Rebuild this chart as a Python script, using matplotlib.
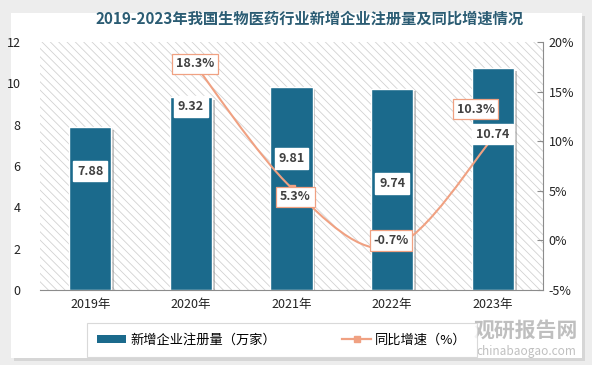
import matplotlib.pyplot as plt
import numpy as np
from matplotlib.patches import Rectangle, PathPatch
from matplotlib.path import Path
from matplotlib.lines import Line2D
from matplotlib.patches import Patch
import matplotlib.patheffects as pe
from matplotlib.ticker import FuncFormatter

plt.rcParams['font.family'] = ['Noto Sans CJK SC', 'DejaVu Sans']
plt.rcParams['hatch.linewidth'] = 0.6
plt.rcParams['hatch.color'] = '#CFCFCF'

# data
years = ['2019年', '2020年', '2021年', '2022年', '2023年']
counts = [7.88, 9.32, 9.81, 9.74, 10.74]
growth_years = [1, 2, 3, 4]          # index into years, 2019 has no rate
growth = [18.3, 5.3, -0.7, 10.3]

bar_color = '#1B6A8C'
line_color = '#F0A182'
text_color = '#404040'

fig = plt.figure(figsize=(5.92, 3.65), dpi=100, facecolor='#EDEDED')

# white card with soft shadow
W, H = 592, 365
card = Rectangle((11 / W, 1 - 358 / H), 571 / W, 345 / H, transform=fig.transFigure,
                 facecolor='white', edgecolor='none', zorder=-10,
                 path_effects=[pe.SimplePatchShadow(offset=(2, -2), shadow_rgbFace='#C8C8C8', alpha=0.6), pe.Normal()])
fig.patches.append(card)

ax = fig.add_axes([40 / W, 1 - 290 / H, 503 / W, 248 / H])
ax.set_facecolor('white')
ax.add_patch(Rectangle((0, 0), 1, 1, transform=ax.transAxes, facecolor='white',
                       hatch='\\\\\\\\', edgecolor='#D2D2D2', linewidth=0, zorder=0))

x = np.arange(len(years))
bars = ax.bar(x, counts, width=0.42, color=bar_color, edgecolor='white', linewidth=1, zorder=2,
              path_effects=[pe.SimplePatchShadow(offset=(2, -2), shadow_rgbFace='#888888', alpha=0.5), pe.Normal()])
ax.set_xlim(-0.5, len(years) - 0.5)
ax.set_ylim(0, 12)
ax.set_yticks(range(0, 13, 2))
ax.set_xticks(x)
ax.set_xticklabels(years, fontsize=9, color='#222222')
ax.tick_params(axis='y', length=0, labelsize=9, labelcolor='#222222', pad=14)
ax.tick_params(axis='x', length=0, pad=6)
for s in ['top', 'right', 'left']:
    ax.spines[s].set_visible(False)
ax.spines['bottom'].set_color('#8C8C8C')

# right axis growth line
ax2 = ax.twinx()
ax2.set_ylim(-5, 20)
ax2.set_yticks(range(-5, 21, 5))
ax2.yaxis.set_major_formatter(FuncFormatter(lambda v, p: f'{v:.0f}%'))
ax2.tick_params(axis='y', direction='in', length=4, color='#8C8C8C', labelsize=9, labelcolor='#222222', pad=4)
for s in ['top', 'left', 'bottom']:
    ax2.spines[s].set_visible(False)
ax2.spines['right'].set_color('#8C8C8C')

# smoothed line (Catmull-Rom bezier through the data points)
gx = np.array(growth_years, dtype=float)
gy = np.array(growth, dtype=float)
pts = np.column_stack([gx, gy])
sx, sy = 1.0, 0.1
P = pts * [sx, sy]
verts = [tuple(pts[0])]
codes = [Path.MOVETO]
for i in range(len(P) - 1):
    p0 = P[i - 1] if i > 0 else P[i]
    p1, p2 = P[i], P[i + 1]
    p3 = P[i + 2] if i + 2 < len(P) else P[i + 1]
    c1 = p1 + (p2 - p0) / 6
    c2 = p2 - (p3 - p1) / 6
    verts += [tuple(c1 / [sx, sy]), tuple(c2 / [sx, sy]), tuple(pts[i + 1])]
    codes += [Path.CURVE4] * 3
ax2.add_patch(PathPatch(Path(verts, codes), facecolor='none', edgecolor=line_color, linewidth=1.5, zorder=3))
ax2.plot(gx, gy, linestyle='none', marker='s', markersize=4, color=line_color, zorder=3)

# bar value labels (pixel offsets from bar top), drawn on ax2 so they sit above the line
bar_offsets = [-44, -9, -71, -95, -66]
for xi, v, off in zip(x, counts, bar_offsets):
    ax2.annotate(f'{v:.2f}', (xi, v), xycoords=ax.transData, xytext=(0, off), textcoords='offset pixels',
                 ha='center', va='center', fontsize=9, fontweight='bold', color=text_color,
                 bbox=dict(boxstyle='square,pad=0.3', facecolor='white', edgecolor='white'), zorder=7)

growth_offsets = [(4, -5), (4, -9), (-1, 7), (-17, 29)]
for xi, v, off in zip(gx, gy, growth_offsets):
    ax2.annotate(f'{v:.1f}%', (xi, v), xytext=off, textcoords='offset pixels',
                 ha='center', va='center', fontsize=9, fontweight='bold', color=text_color,
                 bbox=dict(boxstyle='square,pad=0.3', facecolor='white', edgecolor=line_color, linewidth=0.9), zorder=6)

# title
fig.text(310 / W, 1 - 19 / H, '2019-2023年我国生物医药行业新增企业注册量及同比增速情况',
         ha='center', va='center', fontsize=11, fontweight='bold', color='#2B5C73')

# legend
handles = [Patch(facecolor=bar_color, edgecolor='none'),
           Line2D([0], [0], color=line_color, marker='s', markersize=5, linewidth=1.6)]
leg = fig.legend(handles, ['新增企业注册量（万家）', '同比增速（%）'], loc='center',
                 bbox_to_anchor=(282 / W, 1 - 340 / H), ncol=2, frameon=True, fontsize=9.5,
                 handlelength=2.2, handleheight=0.5, handletextpad=0.3, columnspacing=5, borderpad=0.5)
leg.get_frame().set_edgecolor('#D0D0D0')
leg.get_frame().set_linewidth(0.8)
leg.get_frame().set_boxstyle('square')

# watermark
fig.text(526 / W, 1 - 330 / H, '观研报告网', ha='center', va='center', fontsize=15,
         fontweight='bold', color='#B0B0B0', alpha=0.8)
fig.text(526 / W, 1 - 351 / H, 'chinabaogao.com', ha='center', va='center', fontsize=8.5,
         color='#B0B0B0', alpha=0.8)

fig.savefig('out.png', dpi=100, facecolor=fig.get_facecolor())
